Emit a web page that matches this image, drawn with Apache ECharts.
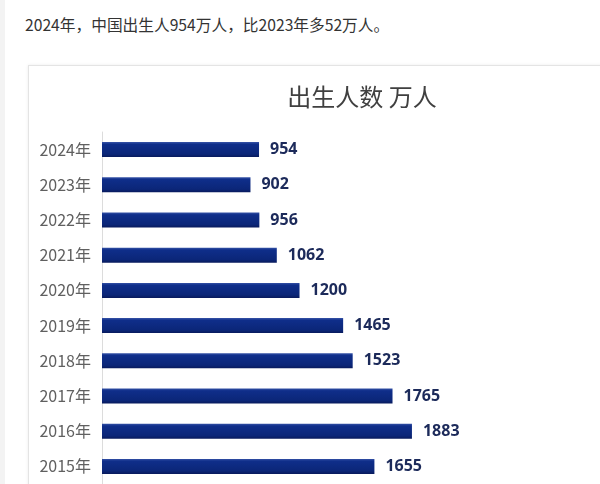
<!DOCTYPE html>
<html><head>
<meta charset="UTF-8">
<title>出生人数</title>
<script src="https://cdn.jsdelivr.net/npm/echarts@6/dist/echarts.min.js"></script>
<style>
html,body{margin:0;padding:0;width:600px;height:484px;overflow:hidden;background:#fff;}
#strip{position:absolute;left:0;top:0;width:5px;height:484px;background:#f3f3f3;}
#head{position:absolute;left:25px;top:13px;font-family:"Noto Sans CJK SC",sans-serif;font-size:15.7px;color:#333;white-space:nowrap;}
#card{position:absolute;left:28px;top:65px;width:666px;height:440px;border:1px solid #e4e4e4;box-shadow:0 0 3px rgba(0,0,0,0.08);background:#fff;}
#chart{width:666px;height:440px;}
</style>
</head>
<body>
<div id="strip"></div>
<div id="head">2024年，中国出生人954万人，比2023年多52万人。</div>
<div id="card"><div id="chart"></div></div>
<script>
// 数据
var years = ['2024年','2023年','2022年','2021年','2020年','2019年','2018年','2017年','2016年','2015年'];
var births = [954, 902, 956, 1062, 1200, 1465, 1523, 1765, 1883, 1655];

var chart = echarts.init(document.getElementById('chart'));
chart.setOption({
    animation: false,
    title: {
        text: '出生人数 万人',
        left: 'center',
        top: 14,
        textStyle: {fontFamily: 'Noto Sans CJK SC', fontSize: 24, fontWeight: 'normal', color: '#404040'}
    },
    grid: {left: 73, top: 66, width: 411.5, height: 352},
    xAxis: {type: 'value', min: 0, max: 2500, show: false},
    yAxis: {
        type: 'category',
        data: years,
        inverse: true,
        axisTick: {show: false},
        axisLine: {lineStyle: {color: '#dcdcdc', width: 1}},
        axisLabel: {margin: 11, fontFamily: 'Noto Sans CJK SC', fontSize: 16, color: '#606060'}
    },
    series: [{
        type: 'bar',
        data: births,
        barWidth: 15,
        itemStyle: {
            color: new echarts.graphic.LinearGradient(0, 0, 0, 1, [
                {offset: 0, color: '#3552a6'},
                {offset: 0.15, color: '#0f2e8a'},
                {offset: 0.8, color: '#0b2678'},
                {offset: 1, color: '#081a5c'}
            ])
        },
        label: {
            show: true,
            position: 'right',
            distance: 11,
            fontFamily: 'Noto Sans',
            fontSize: 16,
            fontWeight: 'bold',
            color: '#1c2a5a'
        }
    }]
});
</script>
</body></html>
